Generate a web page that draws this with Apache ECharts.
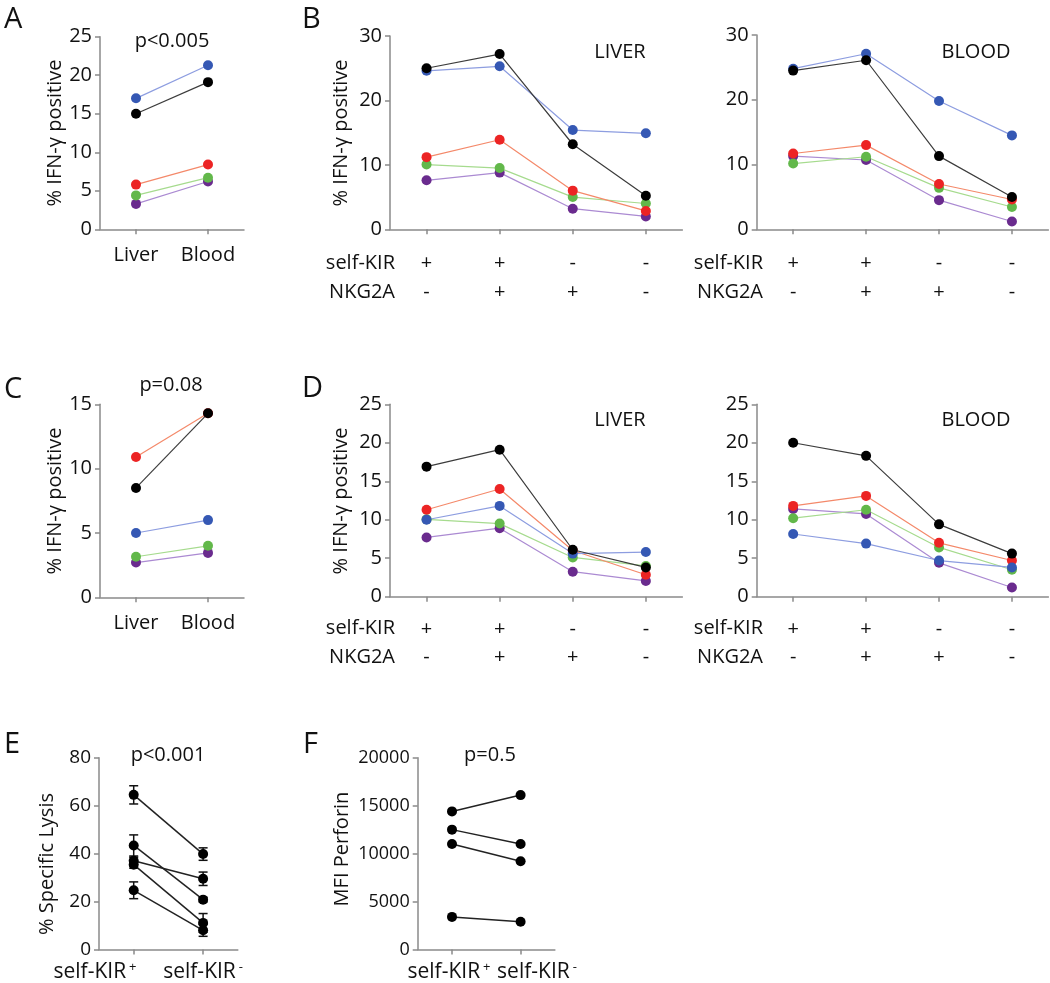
<!DOCTYPE html>
<html><head><meta charset="utf-8">
<script src="https://cdn.jsdelivr.net/npm/echarts@6/dist/echarts.min.js"></script>
<style>html,body{margin:0;padding:0;background:#fff}#c{width:1050px;height:983px}</style>
</head><body><div id="c"></div>
<script>
// ---------- data ----------
const tissueCats = ['Liver', 'Blood'];
const selfKIR = ['+', '+', '-', '-'];
const nkg2a = ['-', '+', '+', '-'];
const lysisCats = ['self-KIR+', 'self-KIR-'];

// Panel A (% IFN-γ positive, Liver vs Blood)
const aPurple = [3.3, 6.2];
const aGreen = [4.4, 6.7];
const aRed = [5.8, 8.4];
const aBlue = [17.0, 21.3];
const aBlack = [15.0, 19.1];

// Panel B, LIVER
const bLiverPurple = [7.6, 8.8, 3.2, 2.0];
const bLiverGreen = [10.05, 9.5, 5.0, 4.0];
const bLiverRed = [11.2, 13.9, 6.0, 2.85];
const bLiverBlue = [24.6, 25.3, 15.4, 14.9];
const bLiverBlack = [25.0, 27.2, 13.2, 5.2];

// Panel B, BLOOD
const bBloodPurple = [11.3, 10.7, 4.5, 1.2];
const bBloodGreen = [10.15, 11.2, 6.4, 3.45];
const bBloodRed = [11.7, 13.0, 7.0, 4.6];
const bBloodBlue = [24.8, 27.1, 19.8, 14.5];
const bBloodBlack = [24.5, 26.1, 11.3, 5.0];

// Panel C
const cPurple = [2.7, 3.45];
const cGreen = [3.15, 4.0];
const cRed = [10.9, 14.3];
const cBlue = [5.0, 6.0];
const cBlack = [8.5, 14.3];

// Panel D, LIVER
const dLiverPurple = [7.7, 8.9, 3.25, 2.05];
const dLiverGreen = [10.05, 9.5, 5.1, 4.0];
const dLiverRed = [11.3, 14.0, 6.0, 2.85];
const dLiverBlue = [10.0, 11.8, 5.6, 5.8];
const dLiverBlack = [16.9, 19.1, 6.1, 3.8];

// Panel D, BLOOD
const dBloodPurple = [11.4, 10.75, 4.4, 1.2];
const dBloodGreen = [10.2, 11.3, 6.4, 3.5];
const dBloodRed = [11.8, 13.1, 7.0, 4.7];
const dBloodBlue = [8.15, 6.9, 4.7, 3.8];
const dBloodBlack = [20.0, 18.3, 9.4, 5.6];

// Panel E (% specific lysis, mean ± error)
const eKirPos = [64.5, 43.4, 37.0, 35.4, 24.7];
const eKirNeg = [39.8, 20.8, 29.5, 11.1, 8.0];
const eErrPos = [3.8, 4.4, 1.5, 1.5, 3.5];
const eErrNeg = [2.6, 1.0, 2.8, 3.9, 2.5];

// Panel F (MFI perforin)
const fKirPos = [14400, 12500, 11000, 3400];
const fKirNeg = [16100, 11000, 9200, 2900];

// ---------- styling ----------
const FONT = '"Open Sans", "Noto Sans", sans-serif';
const TXT = '#111';
const AX = '#8a8a8a';
const COL = {
  purple: { dot: '#6a2b8e', line: '#ab8ad2' },
  green:  { dot: '#62b84a', line: '#a6db8e' },
  red:    { dot: '#ec2424', line: '#f4896a' },
  blue:   { dot: '#3558b4', line: '#8d9de0' },
  black:  { dot: '#000000', line: '#3c3c3c' }
};

const grids = [
  { left: 100,   top: 36.7,  width: 144,   height: 192.6 }, // A
  { left: 390,   top: 36,    width: 292.4, height: 193.3 }, // B liver
  { left: 756.7, top: 35,    width: 291.7, height: 194.3 }, // B blood
  { left: 100,   top: 404.3, width: 144,   height: 193 },   // C
  { left: 390,   top: 404.3, width: 292.4, height: 192.4 }, // D liver
  { left: 756.7, top: 404.3, width: 291.7, height: 192.4 }, // D blood
  { left: 99,    top: 757.7, width: 138.8, height: 192.3 }, // E
  { left: 417.7, top: 757.7, width: 137.2, height: 192.3 }  // F
];

const axLine = { show: true, lineStyle: { color: AX, width: 1.5 } };
const axTick = { show: true, length: 5, lineStyle: { color: AX, width: 1.5 } };

function yAx(gi, max, interval, fs) {
  return {
    type: 'value', gridIndex: gi, min: 0, max: max, interval: interval,
    axisLine: axLine, axisTick: axTick, splitLine: { show: false },
    axisLabel: { fontSize: fs || 20, color: TXT, fontFamily: FONT, margin: 8,
      formatter: function (v) { return String(v); } }
  };
}
function xTissue(gi) {
  return {
    type: 'category', gridIndex: gi, data: tissueCats, boundaryGap: true,
    axisLine: axLine, axisTick: Object.assign({ alignWithLabel: true }, axTick),
    axisLabel: { fontSize: 20, color: TXT, fontFamily: FONT, margin: 16 }
  };
}
const comboCats = selfKIR.map((s, i) => s + '\n' + nkg2a[i]);
function xCombo(gi, margin) {
  return {
    type: 'category', gridIndex: gi, data: comboCats, boundaryGap: true,
    axisLine: axLine, axisTick: Object.assign({ alignWithLabel: true }, axTick),
    axisLabel: { fontSize: 20, lineHeight: 28.4, color: TXT, fontFamily: FONT, margin: margin }
  };
}
function xLysis(gi, shifts) {
  return {
    type: 'category', gridIndex: gi, data: lysisCats, boundaryGap: true,
    axisLine: axLine, axisTick: Object.assign({ alignWithLabel: true }, axTick),
    axisLabel: {
      margin: 11, interval: 0, color: TXT, fontFamily: FONT,
      formatter: function (v, i) {
        const base = v.slice(0, -1), sign = v.slice(-1);
        const core = '{m|' + base + '}{s|' + sign + '}';
        const sh = shifts[i];
        if (sh < 0) return core + '{g' + i + '| }';
        if (sh > 0) return '{g' + i + '| }' + core;
        return core;
      },
      rich: {
        m: { fontSize: 21, fontFamily: FONT, color: TXT, lineHeight: 24 },
        s: { fontSize: 13, fontFamily: FONT, color: TXT, verticalAlign: 'top', padding: [0, 0, 0, 3] },
        g0: { width: Math.abs(shifts[0]) * 2 },
        g1: { width: Math.abs(shifts[1]) * 2 }
      }
    }
  };
}

function ln(gi, data, c) {
  return {
    type: 'line', xAxisIndex: gi, yAxisIndex: gi, data: data,
    symbol: 'circle', symbolSize: 10, showSymbol: true,
    lineStyle: { color: c.line, width: 1.2 }, itemStyle: { color: c.dot },
    animation: false, silent: true
  };
}
function panelSeries(gi, p, g, r, b, k) {
  return [ln(gi, p, COL.purple), ln(gi, g, COL.green), ln(gi, r, COL.red), ln(gi, b, COL.blue), ln(gi, k, COL.black)];
}

const series = [].concat(
  panelSeries(0, aPurple, aGreen, aRed, aBlue, aBlack),
  panelSeries(1, bLiverPurple, bLiverGreen, bLiverRed, bLiverBlue, bLiverBlack),
  panelSeries(2, bBloodPurple, bBloodGreen, bBloodRed, bBloodBlue, bBloodBlack),
  panelSeries(3, cPurple, cGreen, cRed, cBlue, cBlack),
  panelSeries(4, dLiverPurple, dLiverGreen, dLiverRed, dLiverBlue, dLiverBlack),
  panelSeries(5, dBloodPurple, dBloodGreen, dBloodRed, dBloodBlue, dBloodBlack)
);

// Panel E: error bars + paired lines
const errData = [];
eKirPos.forEach((v, i) => { errData.push([0, v, eErrPos[i]]); errData.push([1, eKirNeg[i], eErrNeg[i]]); });
series.push({
  type: 'custom', xAxisIndex: 6, yAxisIndex: 6, data: errData, silent: true, animation: false,
  encode: { x: 0, y: 1 },
  renderItem: function (params, api) {
    const x = api.value(0), v = api.value(1), e = api.value(2);
    const t = api.coord([x, v + e]), b = api.coord([x, v - e]);
    const hw = 4.5, st = { stroke: '#111', lineWidth: 1.5 };
    return { type: 'group', children: [
      { type: 'line', shape: { x1: t[0], y1: t[1], x2: b[0], y2: b[1] }, style: st },
      { type: 'line', shape: { x1: t[0] - hw, y1: t[1], x2: t[0] + hw, y2: t[1] }, style: st },
      { type: 'line', shape: { x1: b[0] - hw, y1: b[1], x2: b[0] + hw, y2: b[1] }, style: st }
    ] };
  }
});
eKirPos.forEach((v, i) => {
  series.push({
    type: 'line', xAxisIndex: 6, yAxisIndex: 6, data: [v, eKirNeg[i]],
    symbol: 'circle', symbolSize: 10, lineStyle: { color: '#222', width: 1.5 },
    itemStyle: { color: '#000' }, animation: false, silent: true, z: 3
  });
});
fKirPos.forEach((v, i) => {
  series.push({
    type: 'line', xAxisIndex: 7, yAxisIndex: 7, data: [v, fKirNeg[i]],
    symbol: 'circle', symbolSize: 10, lineStyle: { color: '#222', width: 1.5 },
    itemStyle: { color: '#000' }, animation: false, silent: true
  });
});

// ---------- text ----------
function txt(x, y, text, size, align, rot) {
  return {
    type: 'text', x: x, y: y, rotation: rot || 0, silent: true,
    style: {
      text: text, fontSize: size, fontFamily: FONT, fill: TXT,
      align: align || 'center', textAlign: align || 'center',
      verticalAlign: 'middle', textVerticalAlign: 'middle'
    }
  };
}
const R = Math.PI / 2;
const graphics = [
  txt(4, 20, 'A', 29, 'left'), txt(302, 20, 'B', 29, 'left'),
  txt(4, 390, 'C', 29, 'left'), txt(302, 389, 'D', 29, 'left'),
  txt(4, 745, 'E', 29, 'left'), txt(303, 745, 'F', 29, 'left'),
  txt(172, 41, 'p<0.005', 20), txt(171, 385, 'p=0.08', 20),
  txt(168, 755, 'p<0.001', 20), txt(490, 755, 'p=0.5', 20),
  txt(620, 52, 'LIVER', 20), txt(976, 52, 'BLOOD', 20),
  txt(620, 420, 'LIVER', 20), txt(976, 420, 'BLOOD', 20),
  txt(395, 263.5, 'self-KIR', 20, 'right'), txt(395, 292, 'NKG2A', 20, 'right'),
  txt(763, 263.5, 'self-KIR', 20, 'right'), txt(763, 292, 'NKG2A', 20, 'right'),
  txt(395, 628.5, 'self-KIR', 20, 'right'), txt(395, 657, 'NKG2A', 20, 'right'),
  txt(763, 628.5, 'self-KIR', 20, 'right'), txt(763, 657, 'NKG2A', 20, 'right'),
  txt(55, 133, '% IFN-γ positive', 20, 'center', R),
  txt(341, 133, '% IFN-γ positive', 20, 'center', R),
  txt(55, 501, '% IFN-γ positive', 20, 'center', R),
  txt(341, 501, '% IFN-γ positive', 20, 'center', R),
  txt(47, 864, '% Specific Lysis', 20, 'center', R),
  txt(342, 849, 'MFI Perforin', 20, 'center', R)
];

const chart = echarts.init(document.getElementById('c'), null, { renderer: 'canvas' });
chart.setOption({
  animation: false,
  backgroundColor: '#fff',
  grid: grids,
  xAxis: [
    xTissue(0), xCombo(1, 20), xCombo(2, 20),
    xTissue(3), xCombo(4, 18), xCombo(5, 18),
    xLysis(6, [-38.7, 0]), xLysis(7, [-3, 16.4])
  ],
  yAxis: [
    yAx(0, 25, 5), yAx(1, 30, 10), yAx(2, 30, 10),
    yAx(3, 15, 5), yAx(4, 25, 5), yAx(5, 25, 5),
    yAx(6, 80, 20, 19), yAx(7, 20000, 5000, 18)
  ],
  series: series,
  graphic: { elements: graphics }
});
</script>
</body></html>
